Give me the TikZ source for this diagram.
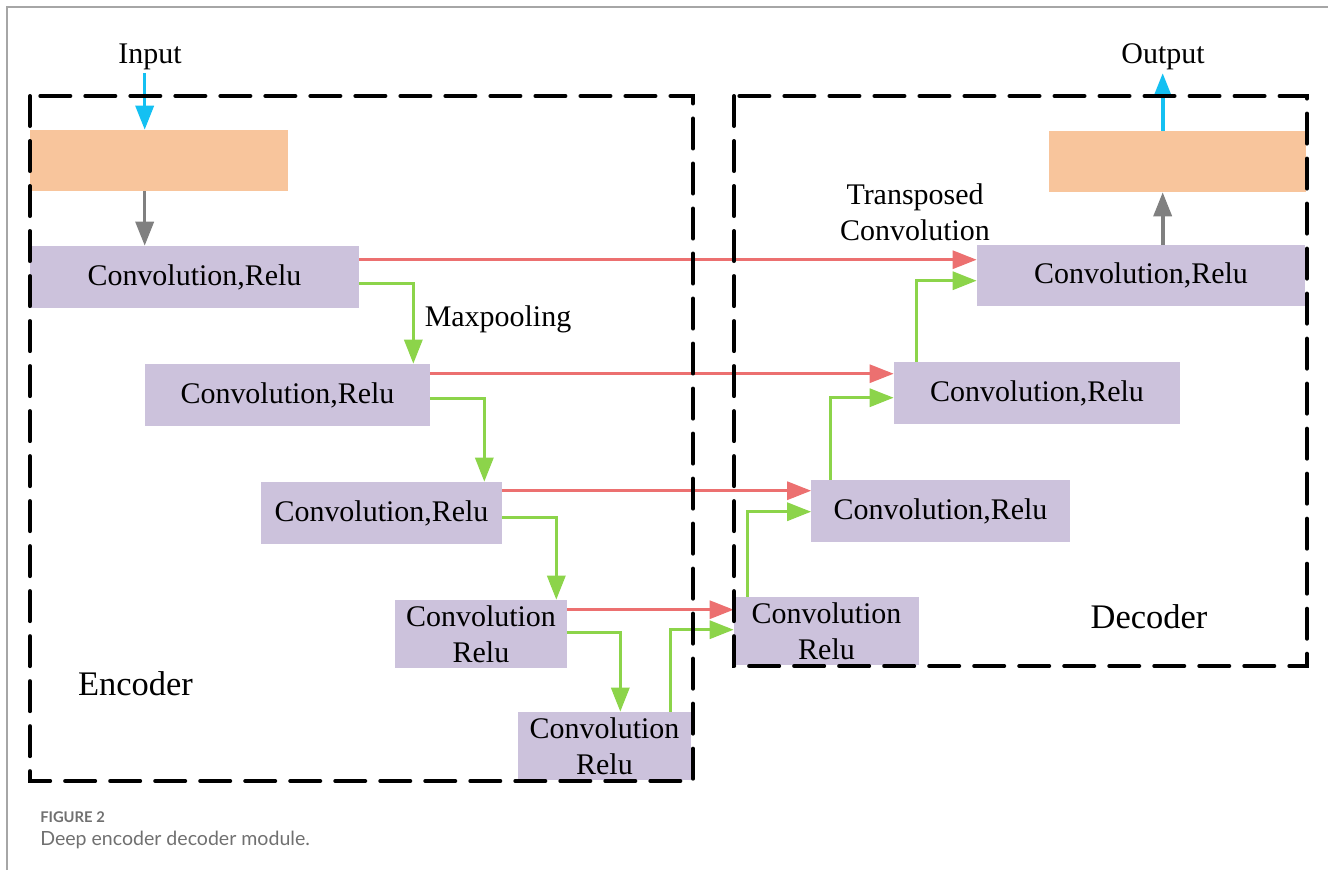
\documentclass[tikz,border=0pt]{standalone}
\usepackage{fontspec}
\setmainfont{Liberation Serif}
\newfontfamily\capfont{Lato}
\usetikzlibrary{arrows.meta,calc}
\definecolor{convfill}{HTML}{CCC2DC}
\definecolor{featfill}{HTML}{F8C59C}
\definecolor{skipred}{HTML}{EC7070}
\definecolor{poolgreen}{HTML}{8CD44A}
\definecolor{iocyan}{HTML}{14C0F2}
\definecolor{captiongray}{HTML}{707070}
\begin{document}
\begin{tikzpicture}[x=0.025cm,y=-0.025cm,>={Triangle[length=0.6cm,width=0.45cm]},
    font=\fontsize{21.3}{25.6}\selectfont]
  \tikzset{conv/.style={fill=convfill, inner sep=0pt, minimum height=1.55cm, align=center},
    feat/.style={fill=featfill, inner sep=0pt, minimum height=1.525cm},
    redarr/.style={->, draw=skipred, line width=0.075cm},
    greenarr/.style={->, draw=poolgreen, line width=0.08cm},
    grayarr/.style={->, draw=gray, line width=0.09cm},
    cyanarr/.style={->, draw=iocyan, line width=0.09cm},
    frame/.style={draw=black, line width=0.1cm, dash pattern=on 0.75cm off 0.375cm, line cap=round},
    lbl/.style={inner sep=2pt}}
  \useasboundingbox (0,0) rectangle (1328,870);
  \draw[gray!70, line width=0.04cm] (7,870) -- (7,7) -- (1328,7);
  % encoder
  \node[feat, minimum width=6.45cm] (in) at (159,160.5) {};
  \node[conv, minimum width=8.225cm] (e1) at (194.5,277) {Convolution,Relu};
  \node[conv, minimum width=7.125cm] (e2) at (287.5,395) {Convolution,Relu};
  \node[conv, minimum width=6.025cm] (e3) at (381.5,513) {Convolution,Relu};
  \node[conv, minimum width=4.3cm, minimum height=1.7cm] (e4) at (481,634) {Convolution\\Relu};
  \node[conv, minimum width=4.325cm, minimum height=1.7cm] (e5) at (604.5,746) {Convolution\\Relu};
  % decoder
  \node[conv, minimum width=4.625cm, minimum height=1.7cm] (d5) at (826.5,631) {Convolution\\Relu};
  \node[conv, minimum width=6.45cm] (d4) at (940.5,511) {Convolution,Relu};
  \node[conv, minimum width=7.15cm] (d3) at (1037,393) {Convolution,Relu};
  \node[conv, minimum width=8.2cm, minimum height=1.525cm] (d2) at (1141,275.5) {Convolution,Relu};
  \node[feat, minimum width=6.425cm] (out) at (1177.5,161.5) {};
  % labels
  \node[lbl] (inlbl) at (150,57) {Input};
  \node[lbl] (outlbl) at (1163,57) {Output};
  \node (mp) at (498,319) {Maxpooling};
  \node[align=center] (tc) at (915,212) {Transposed\\Convolution};
  \node[font=\fontsize{24.5}{29}\selectfont] (enc) at (135.5,684) {Encoder};
  \node[font=\fontsize{24.5}{29}\selectfont] (dec) at (1149,617) {Decoder};
  % input / output
  \coordinate (inx) at ($(in.north west)+(115,0)$);
  \coordinate (outx) at ($(out.north west)+(114,0)$);
  \draw[cyanarr] (inlbl.south -| inx) -- (inx);
  \draw[grayarr] (in.south -| inx) -- (e1.north -| inx);
  \draw[grayarr] (d2.north -| outx) -- (out.south -| outx);
  \draw[cyanarr] (outx) -- (outlbl.south -| outx);
  % skip connections
  \coordinate (r1) at ($(e1.north east)+(0,14)$);
  \coordinate (r2) at ($(e2.north east)+(0,10)$);
  \coordinate (r3) at ($(e3.north east)+(0,9)$);
  \coordinate (r4) at ($(e4.north east)+(0,10)$);
  \draw[redarr] (r1) -- (r1 -| d2.west);
  \draw[redarr] (r2) -- (r2 -| d3.west);
  \draw[redarr] (r3) -- (r3 -| d4.west);
  \draw[redarr] (r4) -- (r4 -| d5.west);
  % maxpooling
  \draw[greenarr] ($(e1.north east)+(0,38)$) -| ($(e2.north east)+(-17,0)$);
  \draw[greenarr] ($(e2.north east)+(0,35)$) -| ($(e3.north east)+(-18,0)$);
  \draw[greenarr] ($(e3.north east)+(0,36)$) -| ($(e4.north east)+(-11,0)$);
  \draw[greenarr] ($(e4.north east)+(0,33)$) -| ($(e5.north east)+(-71,0)$);
  % transposed convolution
  \draw[greenarr] ($(e5.north east)+(-21,0)$) |- ($(d5.north west)+(0,33)$);
  \draw[greenarr] ($(d5.north west)+(14,0)$) |- ($(d4.north west)+(0,32)$);
  \draw[greenarr] ($(d4.north west)+(19,0)$) |- ($(d3.north west)+(0,36)$);
  \draw[greenarr] ($(d3.north west)+(23,0)$) |- ($(d2.north west)+(0,36)$);
  % frames
  \draw[frame] (30,96) rectangle (693,781);
  \draw[frame] (734,96) rectangle (1307,666);
  % caption
  \node[anchor=west, inner sep=0pt, text=captiongray, font=\capfont\bfseries\fontsize{10.5}{12}\selectfont] (fig) at (40,817) {FIGURE 2};
  \node[anchor=west, inner sep=0pt, text=captiongray, font=\capfont\fontsize{13.9}{16}\selectfont] (cap) at (40,840) {Deep encoder decoder module.};
\end{tikzpicture}
\end{document}
